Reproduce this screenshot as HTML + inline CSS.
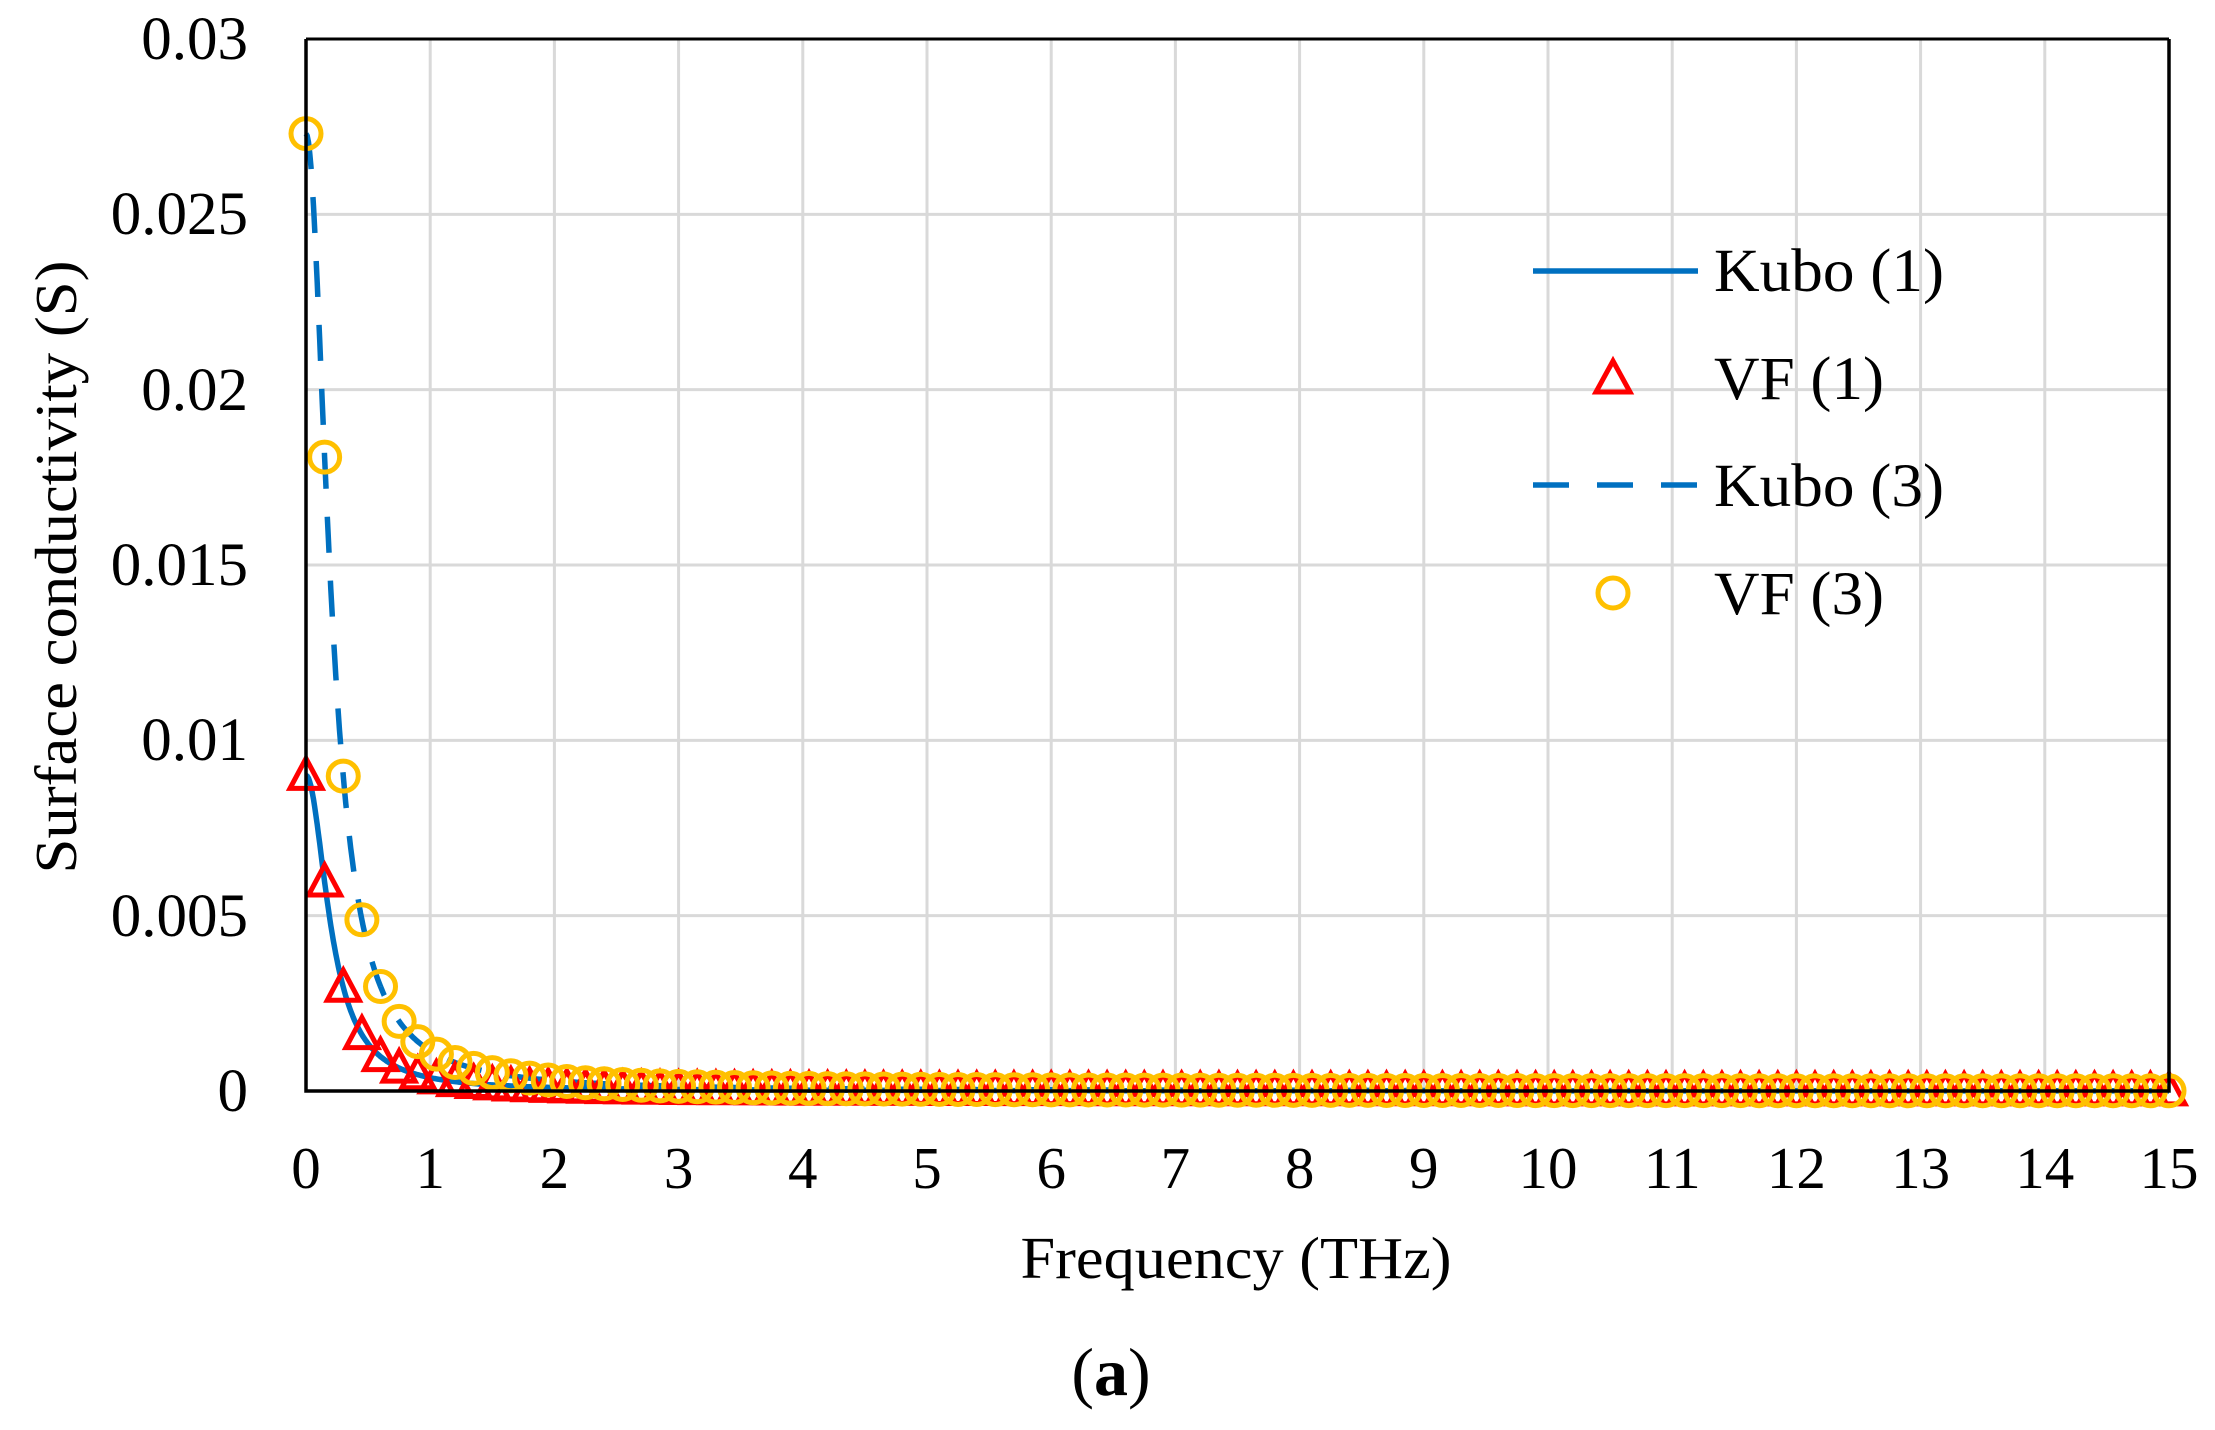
<!DOCTYPE html>
<html><head><meta charset="utf-8"><style>
html,body{margin:0;padding:0;background:#fff;}
svg{display:block;}
text{font-family:"Liberation Serif",serif;fill:#000;}
</style></head><body>
<svg id="s" width="2215" height="1430" viewBox="0 0 2215 1430" xmlns="http://www.w3.org/2000/svg">
<rect width="2215" height="1430" fill="#fff"/>
<g stroke="#d9d9d9" stroke-width="3" id="grid"></g>
<g font-size="61" text-anchor="end">
<text x="248" y="59">0.03</text>
<text x="248" y="234">0.025</text>
<text x="248" y="410">0.02</text>
<text x="248" y="585">0.015</text>
<text x="248" y="760">0.01</text>
<text x="248" y="936">0.005</text>
<text x="248" y="1111">0</text>
</g>
<g font-size="59" text-anchor="middle" id="xl"></g>
<text font-size="59" text-anchor="middle" transform="translate(76,567) rotate(-90)" textLength="613" lengthAdjust="spacingAndGlyphs">Surface conductivity (S)</text>
<text x="1236" y="1278" font-size="59" text-anchor="middle" textLength="431" lengthAdjust="spacingAndGlyphs">Frequency (THz)</text>
<text x="1111" y="1395" font-size="68" text-anchor="middle">(<tspan font-weight="bold">a</tspan>)</text>
<g id="data"></g>
<path d="M306 39 V1091 H2169 V39" fill="none" stroke="#000" stroke-width="3.5"/>
<path d="M306 39 H2169" fill="none" stroke="#000" stroke-width="3"/>
<g font-size="61">
<line x1="1533" y1="271" x2="1698" y2="271" stroke="#0070c0" stroke-width="5.5"/>
<text x="1714" y="291" textLength="230" lengthAdjust="spacingAndGlyphs">Kubo (1)</text>
<path d="M1613 361 L1630 392 L1596 392 Z" fill="none" stroke="#ff0000" stroke-width="5"/>
<text x="1714" y="399" textLength="170" lengthAdjust="spacingAndGlyphs">VF (1)</text>
<line x1="1533" y1="485" x2="1698" y2="485" stroke="#0070c0" stroke-width="5.5" stroke-dasharray="36,28"/>
<text x="1714" y="506" textLength="230" lengthAdjust="spacingAndGlyphs">Kubo (3)</text>
<circle cx="1613" cy="593" r="15" fill="none" stroke="#ffc000" stroke-width="5"/>
<text x="1714" y="614" textLength="170" lengthAdjust="spacingAndGlyphs">VF (3)</text>
</g>
</svg>
<script>
(function(){
var NS="http://www.w3.org/2000/svg";
var X0=306,X1=2169,Y0=1091,Y1=39;
function X(f){return X0+(X1-X0)*f/15;}
function Y(v){return Y0-(Y0-Y1)*v/0.03;}
var g=document.getElementById('grid');
for(var i=1;i<=15;i++){var l=document.createElementNS(NS,'line');l.setAttribute('x1',X(i));l.setAttribute('x2',X(i));l.setAttribute('y1',Y1);l.setAttribute('y2',Y0);g.appendChild(l);}
for(var j=1;j<6;j++){var l=document.createElementNS(NS,'line');l.setAttribute('x1',X0);l.setAttribute('x2',X1);l.setAttribute('y1',Y(j*0.005));l.setAttribute('y2',Y(j*0.005));g.appendChild(l);}
var xl=document.getElementById('xl');
for(var i=0;i<=15;i++){var t=document.createElementNS(NS,'text');t.setAttribute('x',X(i));t.setAttribute('y',1188);t.textContent=String(i);xl.appendChild(t);}
var fc=0.21;
function k1(f){return 0.009/(1+(f/fc)*(f/fc));}
function k3(f){return 0.0273/(1+(f/fc)*(f/fc));}
var d=document.getElementById('data');
var p1='',p3='';
for(var f=0;f<=15.0001;f+=0.01){p1+=(f==0?'M':'L')+X(f).toFixed(1)+' '+Y(k1(f)).toFixed(1);p3+=(f==0?'M':'L')+X(f).toFixed(1)+' '+Y(k3(f)).toFixed(1);}
function path(dd,st,w,da){var e=document.createElementNS(NS,'path');e.setAttribute('d',dd);e.setAttribute('fill','none');e.setAttribute('stroke',st);e.setAttribute('stroke-width',w);if(da)e.setAttribute('stroke-dasharray',da);d.appendChild(e);}
path(p1,'#0070c0',5.5);
path(p3,'#0070c0',5.5,'36,28');
var tr='';
for(var n=0;n<=100;n++){var f=n*0.15;var x=X(f),y=Y(k1(f)),yc=Y(k3(f));
tr+='M'+x.toFixed(1)+' '+(y-17).toFixed(1)+'L'+(x+16).toFixed(1)+' '+(y+13).toFixed(1)+'L'+(x-16).toFixed(1)+' '+(y+13).toFixed(1)+'Z';
var c=document.createElementNS(NS,'circle');c.setAttribute('cx',x);c.setAttribute('cy',yc);c.setAttribute('r',15);c.setAttribute('fill','none');c.setAttribute('stroke','#ffc000');c.setAttribute('stroke-width',5);d.appendChild(c);}
var e=document.createElementNS(NS,'path');e.setAttribute('d',tr);e.setAttribute('fill','none');e.setAttribute('stroke','#ff0000');e.setAttribute('stroke-width',5);d.insertBefore(e,d.childNodes[2]);
})();
</script>
</body></html>
